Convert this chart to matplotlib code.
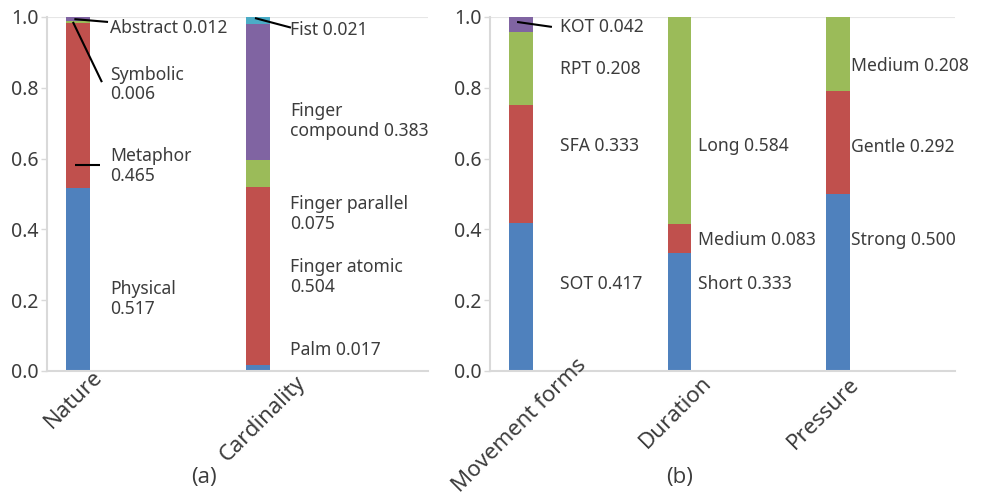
import matplotlib.pyplot as plt
import numpy as np

plt.rcParams['font.family'] = ['Noto Sans', 'DejaVu Sans']

# colours of the stacked segments (bottom to top)
blue, red, green, purple, cyan = '#4f81bd', '#c0504d', '#9bbb59', '#8064a2', '#4bacc6'
seg_colors = [blue, red, green, purple, cyan]

# panel (a)
cats_a = ['Nature', 'Cardinality']
nature_names = ['Physical\n', 'Metaphor\n', 'Symbolic\n', 'Abstract ']
nature_vals = [0.517, 0.465, 0.006, 0.012]
card_names = ['Palm ', 'Finger atomic\n', 'Finger parallel\n', 'Finger\ncompound ', 'Fist ']
card_vals = [0.017, 0.504, 0.075, 0.383, 0.021]

# panel (b)
cats_b = ['Movement forms', 'Duration', 'Pressure']
move_names = ['SOT ', 'SFA ', 'RPT ', 'KOT ']
move_vals = [0.417, 0.333, 0.208, 0.042]
dur_names = ['Short ', 'Medium ', 'Long ']
dur_vals = [0.333, 0.083, 0.584]
pres_names = ['Strong ', 'Gentle ', 'Medium ']
pres_vals = [0.500, 0.292, 0.208]

# label heights
nature_lab_y = [0.203, 0.579, 0.81, 0.969]
card_lab_y = [0.059, 0.266, 0.443, 0.706, 0.963]
move_lab_y = [0.246, 0.636, 0.853, 0.972]
dur_lab_y = [0.246, 0.37, 0.636]
pres_lab_y = [0.37, 0.633, 0.862]

# centre of each slanted category name, in pixels from the foot of its bar
cat_off_a = [(-4, 28), (5, 48)]
cat_off_b = [(-1, 55), (-4, 41), (-14, 43)]

fig = plt.figure(figsize=(9.86, 4.99), dpi=100)
ax1 = fig.add_axes([47 / 986, 128 / 499, 381 / 986, 354 / 499])
ax2 = fig.add_axes([490 / 986, 128 / 499, 465 / 986, 354 / 499])

grey = '#3c3c3c'


def stack(ax, x, vals, width):
    bottom = 0
    for i, v in enumerate(vals):
        ax.bar(x, v, width, bottom=bottom, color=seg_colors[i], edgecolor='none')
        bottom += v


def labels(ax, x, names, vals, ys):
    for n, v, y in zip(names, vals, ys):
        ax.text(x, y, f'{n}{v:.3f}', ha='left', va='center', fontsize=12.6,
                color=grey, linespacing=1.1)


def style(ax, xlim, cats, offs):
    ax.set_xlim(*xlim)
    ax.set_ylim(0, 1.0)
    ticks = np.arange(0, 1.01, 0.2)
    ax.set_yticks(ticks)
    ax.set_yticklabels([f'{t:.1f}' for t in ticks])
    for s in ['top', 'right']:
        ax.spines[s].set_visible(False)
    for s in ['left', 'bottom']:
        ax.spines[s].set_color('#d9d9d9')
        ax.spines[s].set_linewidth(1.5)
    ax.axhline(1.0, color='#e6e6e6', lw=1.5, zorder=0)
    ax.tick_params(axis='y', colors='#d9d9d9', labelcolor=grey, labelsize=14,
                   length=4, width=1, pad=2)
    ax.set_xticks([])
    # px -> points at 100 dpi
    for i, (c, (dx, dy)) in enumerate(zip(cats, offs)):
        ax.annotate(c, xy=(i, 0), xycoords='data',
                    xytext=(dx * 0.72, -dy * 0.72), textcoords='offset points',
                    rotation=45, rotation_mode='anchor', ha='center', va='center',
                    fontsize=16, color=grey, annotation_clip=False)


def leader(ax, x0, y0, x1, y1):
    ax.plot([x0, x1], [y0, y1], color='black', lw=1.5, clip_on=False,
            solid_capstyle='butt')


# panel (a)
stack(ax1, 0, nature_vals, 0.135)
stack(ax1, 1, card_vals, 0.135)
style(ax1, (-0.172, 1.944), cats_a, cat_off_a)
labels(ax1, 0.178, nature_names, nature_vals, nature_lab_y)
labels(ax1, 1.178, card_names, card_vals, card_lab_y)

leader(ax1, -0.02, 0.994, 0.167, 0.986)
leader(ax1, -0.028, 0.986, 0.133, 0.816)
leader(ax1, -0.017, 0.583, 0.122, 0.583)
leader(ax1, 0.983, 0.997, 1.183, 0.97)

# panel (b)
stack(ax2, 0, move_vals, 0.15)
stack(ax2, 1, dur_vals, 0.15)
stack(ax2, 2, pres_vals, 0.15)
style(ax2, (-0.196, 2.74), cats_b, cat_off_b)
labels(ax2, 0.245, move_names, move_vals, move_lab_y)
labels(ax2, 1.12, dur_names, dur_vals, dur_lab_y)
labels(ax2, 2.085, pres_names, pres_vals, pres_lab_y)
leader(ax2, -0.025, 0.986, 0.195, 0.972)

fig.text(204 / 986, 1 - 478 / 499, '(a)', ha='center', va='center', fontsize=16,
         color=grey, family=['Open Sans', 'DejaVu Sans'])
fig.text(680 / 986, 1 - 478 / 499, '(b)', ha='center', va='center', fontsize=16,
         color=grey, family=['Open Sans', 'DejaVu Sans'])

fig.savefig('out.png', dpi=100)
